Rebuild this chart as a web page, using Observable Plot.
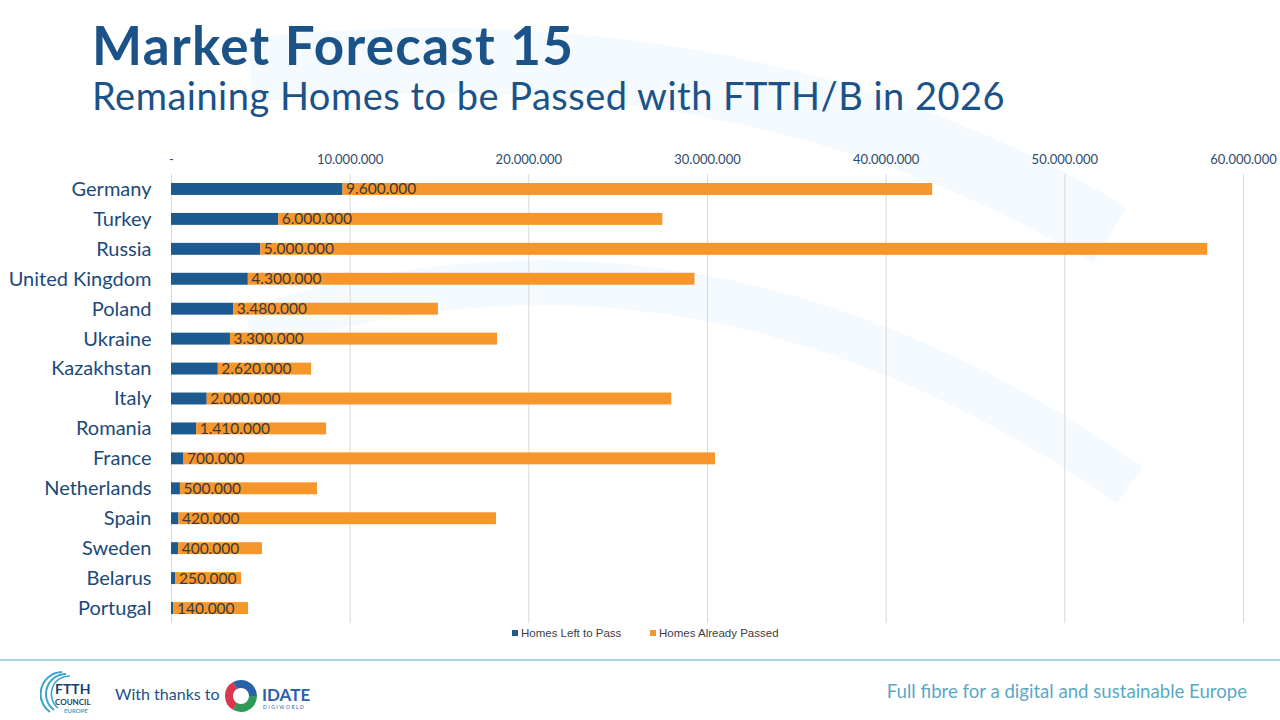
<!DOCTYPE html>
<html>
<head>
<meta charset="utf-8">
<script src="https://cdn.jsdelivr.net/npm/d3@7"></script>
<script src="https://cdn.jsdelivr.net/npm/@observablehq/plot@0.6"></script>
<style>
  html, body { margin: 0; padding: 0; background: #fff; }
  #page { position: relative; width: 1280px; height: 720px; overflow: hidden; font-family: Lato, "Open Sans", sans-serif; }
  #bg { position: absolute; left: 0; top: 0; }
  #title { position: absolute; left: 92px; top: 13px; font-size: 53px; font-weight: 700; color: #1b5288; letter-spacing: 1.3px; }
  #subtitle { position: absolute; left: 92px; top: 72px; font-size: 38px; font-weight: 400; color: #1b5288; letter-spacing: 0.5px; }
  #chart { position: absolute; left: 0; top: 140px; }
  #legend { position: absolute; top: 627px; left: 0; width: 1280px; font-family: "Liberation Sans", Arial, sans-serif; font-size: 11.5px; color: #404040; }
  #legend span.item { position: absolute; top: 0; white-space: nowrap; }
  #legend i { display: inline-block; width: 6px; height: 6px; margin-right: 3px; vertical-align: 1px; }
  #rule { position: absolute; left: 0; top: 659px; width: 1280px; height: 2px; background: #a9d2dd; }
  #thanks { position: absolute; left: 115px; top: 684px; font-size: 16px; color: #1b5288; }
  #tagline { position: absolute; right: 33px; top: 680px; font-size: 18.6px; color: #5aa8c6; }
  #ftth { position: absolute; left: 40px; top: 668px; }
  #idate { position: absolute; left: 224px; top: 676px; }
</style>
</head>
<body>
<div id="page">
  <svg id="bg" width="1280" height="720">
    <path d="M 250 70 Q 750 20 1110 235" fill="none" stroke="#f4fafd" stroke-width="65"></path>
    <path d="M 250 330 Q 700 185 1130 485" fill="none" stroke="#f4fafd" stroke-width="45"></path>
  </svg>
  <div id="title">Market Forecast 15</div>
  <div id="subtitle">Remaining Homes to be Passed with FTTH/B in 2026</div>
  <div id="chart"></div>
  <div id="legend"></div>
  <div id="rule"></div>
  <svg id="ftth" width="60" height="50">
    <path d="M22 4 A22 22 0 0 0 10 44" fill="none" stroke="#3aa5c9" stroke-width="2"/>
    <path d="M26 6 A20 20 0 0 0 14 42" fill="none" stroke="#3aa5c9" stroke-width="2"/>
    <path d="M30 8 A18 18 0 0 0 18 40" fill="none" stroke="#3aa5c9" stroke-width="1.5"/>
    <text x="15" y="26" font-family="Lato, sans-serif" font-weight="700" font-size="14" fill="#1b3f6b">FTTH</text>
    <text x="15" y="37" font-family="Lato, sans-serif" font-weight="700" font-size="8" fill="#1b3f6b">COUNCIL</text>
    <text x="24" y="45" font-family="Lato, sans-serif" font-weight="700" font-size="6" fill="#3aa5c9">EUROPE</text>
  </svg>
  <div id="thanks">With thanks to</div>
  <svg id="idate" width="100" height="40">
    <circle cx="17" cy="20" r="12" fill="none" stroke="#2e9a58" stroke-width="8" stroke-dasharray="25 100"/>
    <circle cx="17" cy="20" r="12" fill="none" stroke="#d9374b" stroke-width="8" stroke-dasharray="0 25 25 100"/>
    <circle cx="17" cy="20" r="12" fill="none" stroke="#2a62a8" stroke-width="8" stroke-dasharray="0 50 26 100"/>
    <text x="38" y="25" font-family="Lato, sans-serif" font-weight="700" font-size="17" fill="#2a62a8">IDATE</text>
    <text x="39" y="33" font-family="Lato, sans-serif" font-size="5" letter-spacing="1.5" fill="#2a62a8">DIGIWORLD</text>
  </svg>
  <div id="tagline">Full fibre for a digital and sustainable Europe</div>
</div>
<script>
// ---- Data ----
const countries = ["Germany","Turkey","Russia","United Kingdom","Poland","Ukraine","Kazakhstan","Italy","Romania","France","Netherlands","Spain","Sweden","Belarus","Portugal"];
const homesLeftToPass = [9600000,6000000,5000000,4300000,3480000,3300000,2620000,2000000,1410000,700000,500000,420000,400000,250000,140000];
const homesAlreadyPassed = [33000000,21500000,53000000,25000000,11460000,14950000,5220000,26000000,7270000,29750000,7670000,17770000,4690000,3670000,4170000];
const seriesNames = ["Homes Left to Pass","Homes Already Passed"];
const seriesColors = ["#1d5a8f","#f7962b"];
const xTicks = [0,10000000,20000000,30000000,40000000,50000000,60000000];

const locale = d3.formatLocale({decimal: ",", thousands: ".", grouping: [3], currency: ["", ""]});
const fmt = locale.format(",d");
const tickFmt = d => d === 0 ? "-" : fmt(d);

const rows = [];
countries.forEach((c, i) => {
  rows.push({country: c, series: seriesNames[0], value: homesLeftToPass[i]});
  rows.push({country: c, series: seriesNames[1], value: homesAlreadyPassed[i]});
});
const labels = countries.map((c, i) => ({country: c, x: homesLeftToPass[i], text: fmt(homesLeftToPass[i])}));

const chart = Plot.plot({
  width: 1280,
  height: 485,
  marginLeft: 171,
  marginRight: 37,
  marginTop: 34,
  marginBottom: 2,
  style: {background: "transparent", fontFamily: "Lato, sans-serif"},
  x: {domain: [0, 60000000], ticks: xTicks, tickFormat: tickFmt, axis: null},
  y: {domain: countries, padding: 0, round: false, axis: null, label: null},
  color: {domain: seriesNames, range: seriesColors},
  marks: [
    Plot.gridX(xTicks, {stroke: "#d9d9d9", strokeOpacity: 1, strokeWidth: 1}),
    Plot.axisX({anchor: "top", ticks: xTicks, tickFormat: tickFmt, tickSize: 0, tickPadding: 11, fontSize: 13, fill: "#2f4a6b", fontFamily: "Lato, sans-serif", label: null}),
    Plot.axisY({anchor: "left", tickSize: 0, tickPadding: 20, fontSize: 20, fill: "#1b4a7a", fontFamily: "Lato, sans-serif", label: null}),
    Plot.barX(rows, Plot.stackX({y: "country", x: "value", fill: "series", order: null, insetTop: 9, insetBottom: 9})),
    Plot.text(labels, {x: "x", y: "country", text: "text", textAnchor: "start", dx: 3, fontSize: 15.5, fill: "#3a3a3a", fontFamily: "Lato, sans-serif"})
  ]
});
document.getElementById("chart").appendChild(chart);

// legend
const legend = document.getElementById("legend");
const lx = [512, 650];
seriesNames.forEach((s, i) => {
  const span = document.createElement("span");
  span.className = "item";
  span.style.left = lx[i] + "px";
  span.innerHTML = `<i style="background:${seriesColors[i]}"></i>${s}`;
  legend.appendChild(span);
});
</script>
</body>
</html>
